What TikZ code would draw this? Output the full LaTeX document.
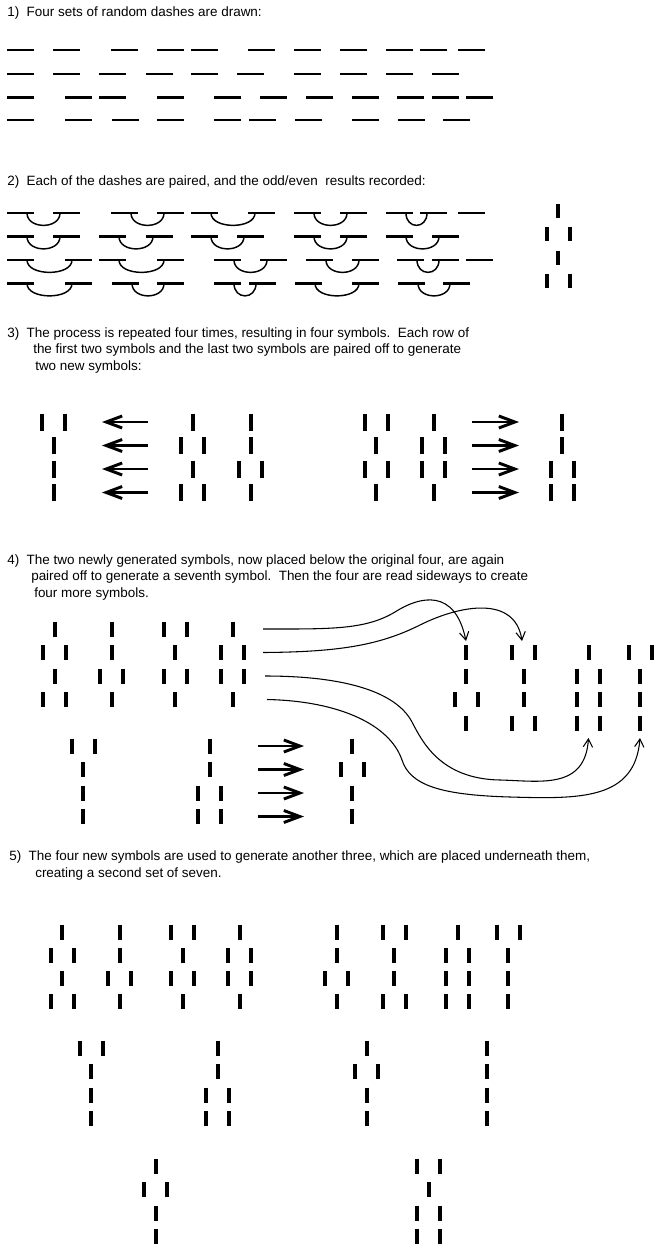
\documentclass[tikz,border=0pt]{standalone}
\usepackage{fontspec}
\setmainfont{Liberation Sans}
\usetikzlibrary{arrows.meta}

% one symbol: centre x, first row y, row step, bar length, rows (1 odd, 2 even)
\newcommand{\gua}[5]{\foreach \v [count=\n from 0] in {#5} {
    \ifnum\v=1
      \draw[bar] (#1,#2+\n*#3) ++(0,-#4/2) -- ++(0,#4);
    \else
      \draw[bar] (#1-11.5,#2+\n*#3) ++(0,-#4/2) -- ++(0,#4);
      \draw[bar] (#1+11.5,#2+\n*#3) ++(0,-#4/2) -- ++(0,#4);
    \fi}}
% paired dashes of one row: y, list of left/right starts
\newcommand{\pairs}[2]{\foreach \a/\b in {#2} {
    \draw[randdash] (\a,#1) -- ++(27,0) (\b,#1) -- ++(27,0);
    \draw[hook] (\a+20,#1) .. controls (\a+20,#1+16.5) and (\b+7,#1+16.5) .. (\b+7,#1);}}

\begin{document}
\begin{tikzpicture}[x=0.75pt,y=-0.75pt,
    txt/.style={anchor=west,inner sep=0pt,font=\fontsize{10.1}{12}\selectfont},
    randdash/.style={line width=2pt},
    hook/.style={line width=1.1pt},
    bar/.style={line width=3pt},
    fat/.style={line width=2.2pt,-{Straight Barb[length=12pt,width=9pt]}},
    link/.style={line width=0.8pt,-{Straight Barb[length=6pt,width=7pt]}}]
    \useasboundingbox (0,0) rectangle (654,1248);

    % 1) random dashes
    \node[txt] (t1) at (7,13) {1)\ \ Four sets of random dashes are drawn:};
    \foreach \a in {7,53,111,157,191,248,294,340,386,420,458} \draw[randdash] (\a,50) -- ++(27,0);
    \foreach \a in {7,53,99,146,191,237,294,340,386,432} \draw[randdash] (\a,74) -- ++(27,0);
    \foreach \a in {7,65,99,157,214,260,306,352,397,432,466} \draw[randdash] (\a,97.5) -- ++(27,0);
    \foreach \a in {7,65,112,157,214,249,295,352,398,443} \draw[randdash] (\a,120) -- ++(27,0);

    % 2) pairs and odd/even
    \node[txt] (t2) at (7,182) {2)\ \ Each of the dashes are paired, and the odd/even\ \ results recorded:};
    \pairs{213}{7/53,111/157,191/248,294/340,386/420}
    \draw[randdash] (458,213) -- ++(27,0);
    \pairs{236.5}{7/53,99/146,191/237,294/340,386/432}
    \pairs{260}{7/65,99/157,214/260,306/352,397/432}
    \draw[randdash] (466,260) -- ++(27,0);
    \pairs{283.5}{7/65,112/157,214/249,295/352,398/443}
    \gua{558}{211}{23.3}{14}{1,2,1,2}

    % 3) four symbols, two new ones
    \node[txt] (t3a) at (7,334) {3)\ \ The process is repeated four times, resulting in four symbols.\ \ Each row of};
    \node[txt] (t3b) at (33,350.5) {the first two symbols and the last two symbols are paired off to generate};
    \node[txt] (t3c) at (35,367) {two new symbols:};
    \gua{53.5}{422}{23.5}{17}{2,1,1,1}
    \gua{192.5}{422}{23.5}{17}{1,2,1,2}
    \gua{250.5}{422}{23.5}{17}{1,1,2,1}
    \gua{376}{422}{23.5}{17}{2,1,2,1}
    \gua{433.5}{422}{23.5}{17}{1,2,2,1}
    \gua{562}{422}{23.5}{17}{1,1,2,2}
    \foreach \n in {0,...,3} {
        \draw[fat] (148,422+\n*23.5) -- (102,422+\n*23.5);
        \draw[fat] (472,422+\n*23.5) -- (519,422+\n*23.5);}

    % 4) seventh symbol and sideways reading
    \node[txt] (t4a) at (7,561) {4)\ \ The two newly generated symbols, now placed below the original four, are again};
    \node[txt] (t4b) at (31,577.5) {paired off to generate a seventh symbol.\ \ Then the four are read sideways to create};
    \node[txt] (t4c) at (34,594) {four more symbols.};
    \gua{54.5}{629}{23.5}{15}{1,2,1,2}
    \gua{111.5}{629}{23.5}{15}{1,1,2,1}
    \gua{175}{629}{23.5}{15}{2,1,2,1}
    \gua{232.5}{629}{23.5}{15}{1,2,2,1}
    \gua{83}{746}{23.5}{15}{2,1,1,1}
    \gua{209.5}{746}{23.5}{15}{1,1,2,2}
    \gua{352}{746}{23.5}{15}{1,2,1,1}
    \foreach \n in {0,...,3} \draw[fat] (258,746+\n*23.5) -- (304,746+\n*23.5);
    \gua{466}{652.5}{23.5}{15}{1,1,2,1}
    \gua{523.5}{652.5}{23.5}{15}{2,1,1,2}
    \gua{588.5}{652.5}{23.5}{15}{1,2,2,2}
    \gua{640}{652.5}{23.5}{15}{2,1,1,1}
    \coordinate (r1) at (263,629);   \coordinate (s1) at (466,641);
    \coordinate (r2) at (263,652.5); \coordinate (s2) at (522,641);
    \coordinate (r3) at (265,676);   \coordinate (s3) at (588.5,738);
    \coordinate (r4) at (267,699.5); \coordinate (s4) at (640,738);
    \draw[link] (r1) .. controls (330,629) and (365,630) .. (395,612)
        .. controls (420,596) and (455,588) .. (s1);
    \draw[link] (r2) .. controls (340,652) and (380,645) .. (420,625)
        .. controls (460,605) and (515,595) .. (s2);
    \draw[link] (r3) .. controls (340,676) and (395,690) .. (412,722)
        .. controls (422,741) and (440,779) .. (500,780)
        .. controls (540,781) and (585,790) .. (s3);
    \draw[link] (r4) .. controls (340,701) and (390,725) .. (402,760)
        .. controls (410,785) and (440,795) .. (510,797)
        .. controls (580,799) and (635,800) .. (s4);

    % 5) second set of seven
    \node[txt] (t5a) at (9,857) {5)\ \ The four new symbols are used to generate another three, which are placed underneath them,};
    \node[txt] (t5b) at (35,874) {creating a second set of seven.};
    \gua{62}{932}{23.3}{15}{1,2,1,2}
    \gua{119.5}{932}{23.3}{15}{1,1,2,1}
    \gua{182.5}{932}{23.3}{15}{2,1,2,1}
    \gua{239.5}{932}{23.3}{15}{1,2,2,1}
    \gua{336.5}{932}{23.3}{15}{1,1,2,1}
    \gua{394}{932}{23.3}{15}{2,1,1,2}
    \gua{457.5}{932}{23.3}{15}{1,2,2,2}
    \gua{508}{932}{23.3}{15}{2,1,1,1}
    \gua{91}{1048}{23.5}{15}{2,1,1,1}
    \gua{217.5}{1048}{23.5}{15}{1,1,2,2}
    \gua{366.5}{1048}{23.5}{15}{1,2,1,1}
    \gua{487}{1048}{23.5}{15}{1,1,1,1}
    \gua{155.5}{1166}{23.5}{15}{1,2,1,1}
    \gua{428.5}{1166}{23.5}{15}{2,1,2,2}
\end{tikzpicture}
\end{document}
